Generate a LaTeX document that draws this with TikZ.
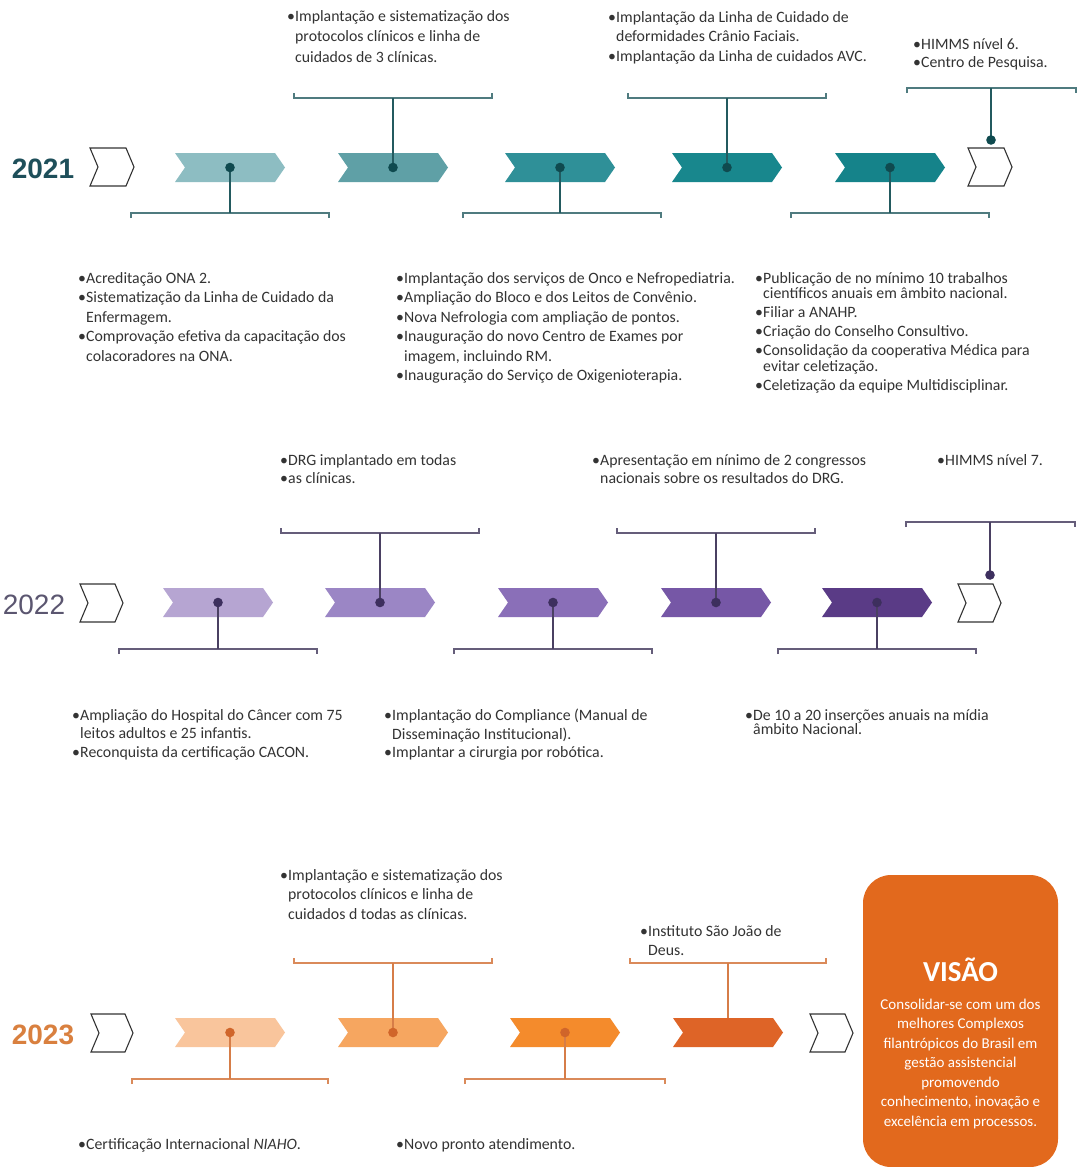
\documentclass[tikz,border=0pt]{standalone}
\usepackage{fontspec}
\setmainfont{Carlito}
\newfontfamily\yearfont{Liberation Sans}
\definecolor{txtgray}{HTML}{333333}
\definecolor{tA}{HTML}{8DBDC2}\definecolor{tB}{HTML}{5FA0A6}\definecolor{tC}{HTML}{2F9098}
\definecolor{tD}{HTML}{18878D}\definecolor{tE}{HTML}{15838A}
\definecolor{tconn}{HTML}{235A5F}\definecolor{tdot}{HTML}{0F4A4F}\definecolor{tyear}{HTML}{1E4F5A}
\definecolor{pA}{HTML}{B6A5D2}\definecolor{pB}{HTML}{9B86C5}\definecolor{pC}{HTML}{8A6FB8}
\definecolor{pD}{HTML}{7657A6}\definecolor{pE}{HTML}{5A3B86}
\definecolor{pconn}{HTML}{4A4062}\definecolor{pdot}{HTML}{3D2F5E}\definecolor{pyear}{HTML}{5B5670}
\definecolor{oA}{HTML}{F9C59C}\definecolor{oB}{HTML}{F6A660}\definecolor{oC}{HTML}{F48B2C}
\definecolor{oD}{HTML}{DE6427}\definecolor{oconn}{HTML}{D67D48}\definecolor{odot}{HTML}{D0652A}
\definecolor{oyear}{HTML}{D9803F}\definecolor{visc}{HTML}{E2691D}
\newcommand\bu{\makebox[8pt][l]{\textbullet}}
\newcommand\ind{\hspace*{8pt}}
% name, x0, yc, width, halfheight, depth, style
\newcommand\chev[7]{%
  \path[#7] (#2,#3-#5) -- (#2+#4-#6,#3-#5) -- (#2+#4,#3) -- (#2+#4-#6,#3+#5) -- (#2,#3+#5) -- (#2+#6,#3) -- cycle;
  \coordinate (#1) at (#2+#4/2,#3);
  \coordinate (#1t) at (#2+#4/2,#3-#5);}
% name, xc, y, halfwidth, tick, style
\newcommand\brk[6]{%
  \draw[#6] (#2-#4,#3+#5) -- (#2-#4,#3) -- (#2+#4,#3) -- (#2+#4,#3+#5);
  \coordinate (#1) at (#2,#3);}
\begin{document}
\begin{tikzpicture}[x=1pt,y=-1pt,
  txt/.style={anchor=north west, inner sep=0pt, align=left, text=txtgray, font=\fontsize{15.8}{19.5}\selectfont},
  outl/.style={draw=black!80, line width=1.1pt, fill=white},
  yr/.style={font=\yearfont\fontsize{28}{30}\selectfont, inner sep=0pt}]
\path[use as bounding box, fill=white] (0,0) rectangle (1078,1167);

% ================= 2021 =================
\node[yr, text=tyear, font=\yearfont\bfseries\fontsize{28}{30}\selectfont] (y21) at (43,169) {2021};
\chev{o21a}{90}{167}{44}{19}{8}{outl}
\chev{c21a}{175}{167.5}{110}{14.5}{10}{fill=tA}
\chev{c21b}{338}{167.5}{110}{14.5}{10}{fill=tB}
\chev{c21c}{505}{167.5}{110}{14.5}{10}{fill=tC}
\chev{c21d}{672}{167.5}{110}{14.5}{10}{fill=tD}
\chev{c21e}{835}{167.5}{110}{14.5}{10}{fill=tE}
\chev{o21b}{968}{167}{44}{19}{8}{outl}
\tikzset{br/.style={draw=tconn!80, line width=1.3pt}, cn/.style={draw=tconn, line width=1.6pt}}
\brk{b21a}{230}{213}{99}{5}{br}
\brk{b21b}{393}{98}{99}{-5}{br}
\brk{b21c}{562}{213}{99}{5}{br}
\brk{b21d}{727}{98}{99}{-5}{br}
\brk{b21e}{890}{213}{99}{5}{br}
\draw[br] (907,93) -- (907,88) -- (1076,88) -- (1076,93);
\coordinate (b21f) at (991,88);
\coordinate (d21f) at (991,140);
\foreach \c/\b in {c21a/b21a,c21b/b21b,c21c/b21c,c21d/b21d,c21e/b21e,d21f/b21f}{
  \draw[cn] (\c) -- (\c |- \b);
  \fill[tdot] (\c) circle (4.8);}

\node[txt, font=\fontsize{15.8}{20.5}\selectfont] (t21b) at (287,10) {\bu Implantação e sistematização dos\\ \ind protocolos clínicos e linha de\\ \ind cuidados de 3 clínicas.};
\node[txt] (t21d) at (608,11) {\bu Implantação da Linha de Cuidado de\\ \ind deformidades Crânio Faciais.\\ \bu Implantação da Linha de cuidados AVC.};
\node[txt, font=\fontsize{15.8}{18}\selectfont] (t21f) at (913,38) {\bu HIMMS nível 6.\\ \bu Centro de Pesquisa.};
\node[txt] (t21a) at (78,272) {\bu Acreditação ONA 2.\\ \bu Sistematização da Linha de Cuidado da\\ \ind Enfermagem.\\ \bu Comprovação efetiva da capacitação dos\\ \ind colacoradores na ONA.};
\node[txt] (t21c) at (396,272) {\bu Implantação dos serviços de Onco e Nefropediatria.\\ \bu Ampliação do Bloco e dos Leitos de Convênio.\\ \bu Nova Nefrologia com ampliação de pontos.\\ \bu Inauguração do novo Centro de Exames por\\ \ind imagem, incluindo RM.\\ \bu Inauguração do Serviço de Oxigenioterapia.};
\node[txt, font=\fontsize{15.8}{15.5}\selectfont] (t21e) at (755,272) {\bu Publicação de no mínimo 10 trabalhos\\ \ind científicos anuais em âmbito nacional.\\[3.5pt] \bu Filiar a ANAHP.\\[3.5pt] \bu Criação do Conselho Consultivo.\\[3.5pt] \bu Consolidação da cooperativa Médica para\\ \ind evitar celetização.\\[3.5pt] \bu Celetização da equipe Multidisciplinar.};

% ================= 2022 =================
\node[yr, text=pyear] (y22) at (34,605) {2022};
\chev{o22a}{80}{603}{43}{19}{8}{outl}
\chev{c22a}{163}{602.5}{110}{14.5}{10}{fill=pA}
\chev{c22b}{325}{602.5}{110}{14.5}{10}{fill=pB}
\chev{c22c}{498}{602.5}{110}{14.5}{10}{fill=pC}
\chev{c22d}{661}{602.5}{110}{14.5}{10}{fill=pD}
\chev{c22e}{822}{602.5}{110}{14.5}{10}{fill=pE}
\chev{o22b}{958}{603}{43}{19}{8}{outl}
\tikzset{br/.style={draw=pconn!85, line width=1.3pt}, cn/.style={draw=pconn, line width=1.6pt}}
\brk{b22a}{218}{649}{99}{5}{br}
\brk{b22b}{380}{533}{99}{-5}{br}
\brk{b22c}{553}{649}{99}{5}{br}
\brk{b22d}{716}{533}{99}{-5}{br}
\brk{b22e}{877}{649}{99}{5}{br}
\draw[br] (906,527) -- (906,522) -- (1075,522) -- (1075,527);
\coordinate (b22f) at (990,522);
\coordinate (d22f) at (990,575);
\foreach \c/\b in {c22a/b22a,c22b/b22b,c22c/b22c,c22d/b22d,c22e/b22e,d22f/b22f}{
  \draw[cn] (\c) -- (\c |- \b);
  \fill[pdot] (\c) circle (4.8);}

\node[txt, font=\fontsize{15.8}{18}\selectfont] (t22b) at (280,454) {\bu DRG implantado em todas\\ \bu as clínicas.};
\node[txt, font=\fontsize{15.8}{18}\selectfont] (t22d) at (592,454) {\bu Apresentação em nínimo de 2 congressos\\ \ind nacionais sobre os resultados do DRG.};
\node[txt] (t22f) at (937,454) {\bu HIMMS nível 7.};
\node[txt, font=\fontsize{15.8}{18.5}\selectfont] (t22a) at (72,709) {\bu Ampliação do Hospital do Câncer com 75\\ \ind leitos adultos e 25 infantis.\\ \bu Reconquista da certificação CACON.};
\node[txt, font=\fontsize{15.8}{18.5}\selectfont] (t22c) at (384,709) {\bu Implantação do Compliance (Manual de\\ \ind Disseminação Institucional).\\ \bu Implantar a cirurgia por robótica.};
\node[txt, font=\fontsize{15.8}{14.5}\selectfont] (t22e) at (745,709) {\bu De 10 a 20 inserções anuais na mídia\\ \ind âmbito Nacional.};

% ================= 2023 =================
\node[yr, text=oyear, font=\yearfont\bfseries\fontsize{28}{30}\selectfont] (y23) at (43,1035) {2023};
\chev{o23a}{91}{1033}{42}{19}{8}{outl}
\chev{c23a}{175}{1032.5}{110}{14.5}{10}{fill=oA}
\chev{c23b}{338}{1032.5}{110}{14.5}{10}{fill=oB}
\chev{c23c}{510}{1032.5}{110}{14.5}{10}{fill=oC}
\chev{c23d}{673}{1032.5}{110}{14.5}{10}{fill=oD}
\chev{o23b}{810}{1033}{43}{19}{8}{outl}
\tikzset{br/.style={draw=oconn!90, line width=1.3pt}, cn/.style={draw=oconn, line width=1.6pt}}
\brk{b23a}{230}{1079}{98}{5}{br}
\brk{b23b}{393}{963}{99}{-5}{br}
\brk{b23c}{565}{1079}{100}{5}{br}
\brk{b23d}{728}{963}{98}{-5}{br}
\foreach \c/\b in {c23a/b23a,c23b/b23b,c23c/b23c}{
  \draw[cn] (\c) -- (\c |- \b);
  \fill[odot] (\c) circle (4.8);}
\draw[cn] (b23d) -- (c23dt);

\node[txt] (t23b) at (280,869) {\bu Implantação e sistematização dos\\ \ind protocolos clínicos e linha de\\ \ind cuidados d todas as clínicas.};
\node[txt] (t23d) at (640,925) {\bu Instituto São João de\\ \ind Deus.};
\node[txt] (t23a) at (78,1138) {\bu Certificação Internacional \textit{NIAHO}.};
\node[txt] (t23c) at (396,1138) {\bu Novo pronto atendimento.};

% Vision box
\node[fill=visc, rounded corners=28pt, minimum width=195pt, minimum height=292pt, inner sep=0pt] (vis) at (960.5,1021) {};
\node[text=white, font=\bfseries\fontsize{29}{30}\selectfont, inner sep=0pt] (vist) at (960.5,970) {VISÃO};
\node[text=white, align=center, inner sep=0pt, font=\fontsize{15}{19.5}\selectfont] (visb) at (960.5,1063.5) {Consolidar-se com um dos\\ melhores Complexos\\ filantrópicos do Brasil em\\ gestão assistencial\\ promovendo\\ conhecimento, inovação e\\ excelência em processos.};
\end{tikzpicture}
\end{document}
